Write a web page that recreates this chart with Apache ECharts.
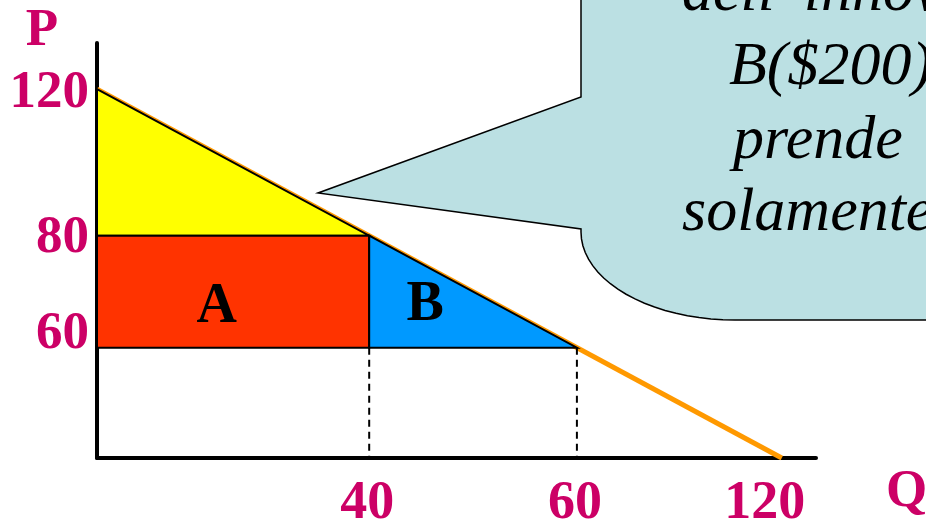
<!DOCTYPE html>
<html>
<head>
<meta charset="utf-8">
<script src="https://cdn.jsdelivr.net/npm/echarts@6/dist/echarts.min.js"></script>
<style>
  html, body { margin: 0; padding: 0; background: #fff; }
  #chart { width: 926px; height: 523px; }
</style>
</head>
<body>
<div id="chart"></div>
<script>
// the picture is a schematic: tick labels sit where the slide put them, not on a true scale
const demand = [[0, 120], [120, 0]]
const qAt = [47.7, 84.1, 120]
const qLabels = ['40', '60', '120']
const pAt = [120, 72.3, 35.9]
const pLabels = ['120', '80', '60']
const areaNames = ['A', 'B']
const areaLabelAt = [[21, 49], [57.5, 49.5]]

const [qA, qB] = qAt
const [pTop, pA, pB] = pAt

const MAGENTA = '#CC0066'
const SERIF = '"Liberation Serif", "DejaVu Serif", serif'

const areas = [
  { color: '#FFFF00', pts: [[0, pTop], [qA, pA], [0, pA]] },
  { color: '#FF3300', pts: [[0, pA], [qA, pA], [qA, pB], [0, pB]] },
  { color: '#0099FF', pts: [[qA, pA], [qB, pB], [qA, pB]] }
]

// speech bubble outline (pixels), rounded bottom-left corner
const bubblePts = [[581, -10], [581, 97], [318, 193], [581, 229]]
for (let k = 0; k <= 20; k++) {
  const t = (k / 20) * Math.PI / 2
  bubblePts.push([735 - 154 * Math.cos(t), 232 + 88 * Math.sin(t)])
}
bubblePts.push([940, 320], [940, -10])

const bubbleText = [
  { text: "dell' innovatore", x: 682, y: -6 },
  { text: 'B($200)', x: 729, y: 68 },
  { text: 'prende', x: 733, y: 142 },
  { text: 'solamente', x: 682, y: 214 }
]

// the slide nudges some labels off their lines a little
const yLabelRich = {
  p0: { padding: [8, 0, 0, 0] },
  p1: { padding: [6, 0, 0, 0] },
  p2: { padding: [0, 0, 26, 0] }
}
const xLabelRich = {
  q0: { padding: [0, 4, 0, 0] },
  q1: { padding: [0, 4, 0, 0] },
  q2: { padding: [0, 34, 0, 0] }
}

const chart = echarts.init(document.getElementById('chart'))

chart.setOption({
  animation: false,
  backgroundColor: '#fff',
  grid: { left: 97, right: 110, top: 43, bottom: 65, outerBoundsMode: 'none', containLabel: false },
  xAxis: {
    type: 'value',
    min: 0,
    max: 126,
    name: 'Q',
    nameLocation: 'end',
    nameGap: 70,
    nameTextStyle: {
      color: MAGENTA, fontFamily: SERIF, fontWeight: 'bold', fontSize: 53,
      align: 'left', verticalAlign: 'top', padding: [8, 0, 0, 0]
    },
    splitLine: { show: false },
    axisTick: { show: false },
    axisLine: { show: true, lineStyle: { color: '#000', width: 4 } },
    axisLabel: {
      customValues: qAt,
      formatter: v => {
        const i = qAt.indexOf(v)
        return '{q' + i + '|' + qLabels[i] + '}'
      },
      rich: xLabelRich,
      margin: 19,
      color: MAGENTA, fontFamily: SERIF, fontWeight: 'bold', fontSize: 54
    }
  },
  yAxis: {
    type: 'value',
    min: 0,
    max: 135,
    name: 'P',
    nameLocation: 'end',
    nameGap: 12,
    nameTextStyle: {
      color: MAGENTA, fontFamily: SERIF, fontWeight: 'bold', fontSize: 53,
      align: 'center', verticalAlign: 'middle', padding: [0, 110, 0, 0]
    },
    splitLine: { show: false },
    axisTick: { show: false },
    axisLine: { show: true, lineStyle: { color: '#000', width: 4 } },
    axisLabel: {
      customValues: pAt,
      formatter: v => {
        const i = pAt.indexOf(v)
        return '{p' + i + '|' + pLabels[i] + '}'
      },
      rich: yLabelRich,
      margin: 8,
      color: MAGENTA, fontFamily: SERIF, fontWeight: 'bold', fontSize: 53
    }
  },
  series: [
    {
      type: 'line',
      data: demand,
      symbol: 'none',
      z: 2,
      lineStyle: { color: '#FF9900', width: 5 }
    },
    {
      type: 'custom',
      z: 3,
      clip: false,
      data: areas.map((a, i) => [i, 0]),
      renderItem: (params, api) => {
        const a = areas[params.dataIndex]
        return {
          type: 'polygon',
          shape: { points: a.pts.map(p => api.coord(p)) },
          style: { fill: a.color, stroke: '#000', lineWidth: 2 }
        }
      }
    },
    {
      type: 'line',
      data: [[qA, pB], [qA, 0]],
      symbol: 'none',
      z: 2,
      lineStyle: { color: '#000', width: 2, type: [7, 5] }
    },
    {
      type: 'line',
      data: [[qB, pB], [qB, 0]],
      symbol: 'none',
      z: 2,
      lineStyle: { color: '#000', width: 2, type: [7, 5] }
    },
    {
      type: 'scatter',
      z: 4,
      symbolSize: 1,
      itemStyle: { color: 'rgba(0,0,0,0)', opacity: 1 },
      data: areaNames.map((n, i) => ({ name: n, value: areaLabelAt[i] })),
      label: {
        show: true,
        position: 'inside',
        formatter: p => p.name,
        color: '#000', opacity: 1, fontFamily: SERIF, fontWeight: 'bold', fontSize: 56
      }
    }
  ],
  graphic: [
    {
      type: 'polygon',
      z: 10,
      shape: { points: bubblePts },
      style: { fill: '#BBE0E3', stroke: '#000', lineWidth: 1.5 }
    }
  ].concat(bubbleText.map(t => ({
    type: 'text',
    z: 11,
    x: t.x,
    y: t.y,
    style: {
      text: t.text,
      fill: '#000',
      font: 'italic 62px "Liberation Serif", serif',
      verticalAlign: 'middle'
    }
  })))
})
</script>
</body>
</html>
